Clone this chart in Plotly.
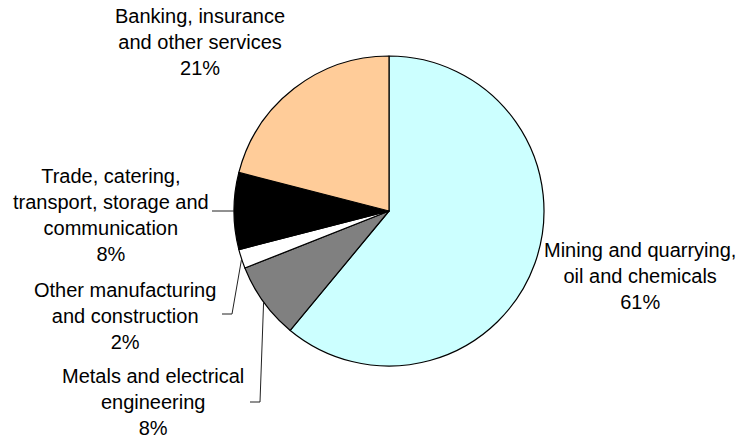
import math
import plotly.graph_objects as go

# Output by sector, share of total (%)
sectors = [
    "Mining and quarrying,<br>oil and chemicals",
    "Metals and electrical<br>engineering",
    "Other manufacturing<br>and construction",
    "Trade, catering,<br>transport, storage and<br>communication",
    "Banking, insurance<br>and other services",
]
shares = [61, 8, 2, 8, 21]
colors = ["#CCFFFF", "#808080", "#FFFFFF", "#000000", "#FFCC99"]

W, H = 741, 439
CX, CY, R = 389, 211, 155  # pie centre and radius in pixels

# label text centres (pixels) and leader-line knee points (None = no leader)
label_pos = [(640, 276), (153, 402), (125, 316), (111, 215), (200, 42)]
leader_knee = [None, [(250, 402), (260, 402)], [(222, 314), (232, 314)], [(212, None)], None]

fig = go.Figure()
fig.add_trace(go.Pie(
    labels=[s.replace("<br>", " ") for s in sectors],
    values=shares,
    sort=False,
    direction="clockwise",
    rotation=0,
    marker=dict(colors=colors, line=dict(color="#000000", width=1.2)),
    textinfo="none",
    hoverinfo="label+percent",
    showlegend=False,
    domain=dict(x=[(CX - R) / W, (CX + R) / W], y=[(H - CY - R) / H, (H - CY + R) / H]),
))

total = sum(shares)
cum = 0
shapes = []
annotations = []
for name, v, pos, knee in zip(sectors, shares, label_pos, leader_knee):
    mid = (cum + v / 2) / total * 2 * math.pi
    cum += v
    ex, ey = CX + R * math.sin(mid), CY - R * math.cos(mid)
    if knee:
        pts = [(kx, ey if ky is None else ky) for kx, ky in knee] + [(ex, ey)]
        path = "M " + " L ".join(f"{x:.1f},{y:.1f}" for x, y in pts)
        shapes.append(dict(type="path", path=path, xref="x", yref="y",
                           line=dict(color="#222222", width=1)))
    annotations.append(dict(
        x=pos[0], y=pos[1], xref="x", yref="y",
        text=f"{name}<br>{round(v / total * 100)}%",
        showarrow=False, xanchor="center", yanchor="middle", align="center",
        font=dict(family="Liberation Sans, Arial, sans-serif", size=20, color="#000000"),
    ))

fig.update_layout(
    width=W, height=H,
    margin=dict(l=0, r=0, t=0, b=0),
    paper_bgcolor="#FFFFFF", plot_bgcolor="rgba(0,0,0,0)",
    xaxis=dict(range=[0, W], visible=False, fixedrange=True),
    yaxis=dict(range=[H, 0], visible=False, fixedrange=True),
    shapes=shapes,
    annotations=annotations,
)

fig.write_html("out.html")
